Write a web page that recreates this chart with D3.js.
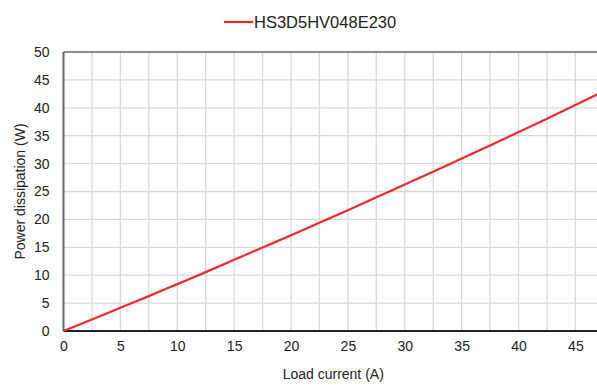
<!DOCTYPE html>
<html><head><meta charset="utf-8">
<script src="https://cdn.jsdelivr.net/npm/d3@7"></script>
<style>body{margin:0;background:#fff}svg{display:block}text{font-family:"Liberation Sans",Arial,sans-serif;fill:#222}</style>
</head><body><svg id="c" width="597" height="385"></svg>
<script>
const seriesName = "HS3D5HV048E230";
const loadCurrent = [0, 2.5, 5, 7.5, 10, 12.5, 15, 17.5, 20, 22.5, 25, 27.5, 30, 32.5, 35, 37.5, 40, 42.5, 45, 47];
const powerDissipation = [0, 2.05, 4.15, 6.25, 8.4, 10.55, 12.75, 14.95, 17.15, 19.4, 21.65, 23.95, 26.25, 28.55, 30.9, 33.25, 35.65, 38.05, 40.5, 42.5];
const xTicks = [0, 5, 10, 15, 20, 25, 30, 35, 40, 45];
const yTicks = [0, 5, 10, 15, 20, 25, 30, 35, 40, 45, 50];
const xGrid = d3.range(0, 47.5, 2.5);

const svg = d3.select("#c");
const L = 63.5, T = 52, B = 331, R = 597;
const x = d3.scaleLinear().domain([0, 46.9]).range([L, R]);
const y = d3.scaleLinear().domain([0, 50]).range([B, T]);

const g = svg.append("g");
g.selectAll(".vg").data(xGrid.filter(d => d > 0)).enter().append("line")
  .attr("x1", d => x(d)).attr("x2", d => x(d)).attr("y1", T).attr("y2", B)
  .attr("stroke", "#d9d9d9").attr("stroke-width", 1.3);
g.selectAll(".hg").data(yTicks.filter(d => d > 0 && d < 50)).enter().append("line")
  .attr("x1", L).attr("x2", R).attr("y1", d => y(d)).attr("y2", d => y(d))
  .attr("stroke", "#d9d9d9").attr("stroke-width", 1.3);

// frame
g.append("line").attr("x1", L).attr("x2", R).attr("y1", T).attr("y2", T).attr("stroke", "#666").attr("stroke-width", 1.6);
g.append("line").attr("x1", L).attr("x2", L).attr("y1", T).attr("y2", B).attr("stroke", "#666").attr("stroke-width", 2);
g.append("line").attr("x1", L).attr("x2", R).attr("y1", B).attr("y2", B).attr("stroke", "#222").attr("stroke-width", 2);

const xAxis = d3.axisBottom(x).tickValues(xTicks).tickSize(0).tickPadding(10);
svg.append("g").attr("transform", `translate(0,${B})`).call(xAxis)
  .call(s => s.select(".domain").remove())
  .selectAll("text").style("font-size", "14px").attr("fill", "#222");
const yAxis = d3.axisLeft(y).tickValues(yTicks).tickSize(0).tickPadding(14);
svg.append("g").attr("transform", `translate(${L},0)`).call(yAxis)
  .call(s => s.select(".domain").remove())
  .selectAll("text").style("font-size", "14px").attr("fill", "#222");

const line = d3.line().curve(d3.curveMonotoneX).x((d, i) => x(loadCurrent[i])).y(d => y(d));
svg.append("clipPath").attr("id", "clip").append("rect").attr("x", L).attr("y", T - 2).attr("width", R - L).attr("height", B - T + 4);
svg.append("path").datum(powerDissipation).attr("d", line).attr("clip-path", "url(#clip)")
  .attr("fill", "none").attr("stroke", "#ee2b2b").attr("stroke-width", 2.2);

svg.append("text").attr("x", (L + 597) / 2 + 3).attr("y", 379).attr("text-anchor", "middle")
  .style("font-size", "14px").text("Load current (A)");
svg.append("text").attr("transform", `translate(25,${(T + B) / 2}) rotate(-90)`).attr("text-anchor", "middle")
  .style("font-size", "14px").text("Power dissipation (W)");

// legend
svg.append("line").attr("x1", 224).attr("x2", 253).attr("y1", 22).attr("y2", 22).attr("stroke", "#ee2b2b").attr("stroke-width", 2.2);
svg.append("text").attr("x", 254).attr("y", 28).style("font-size", "16.5px").text(seriesName);
</script></body></html>
